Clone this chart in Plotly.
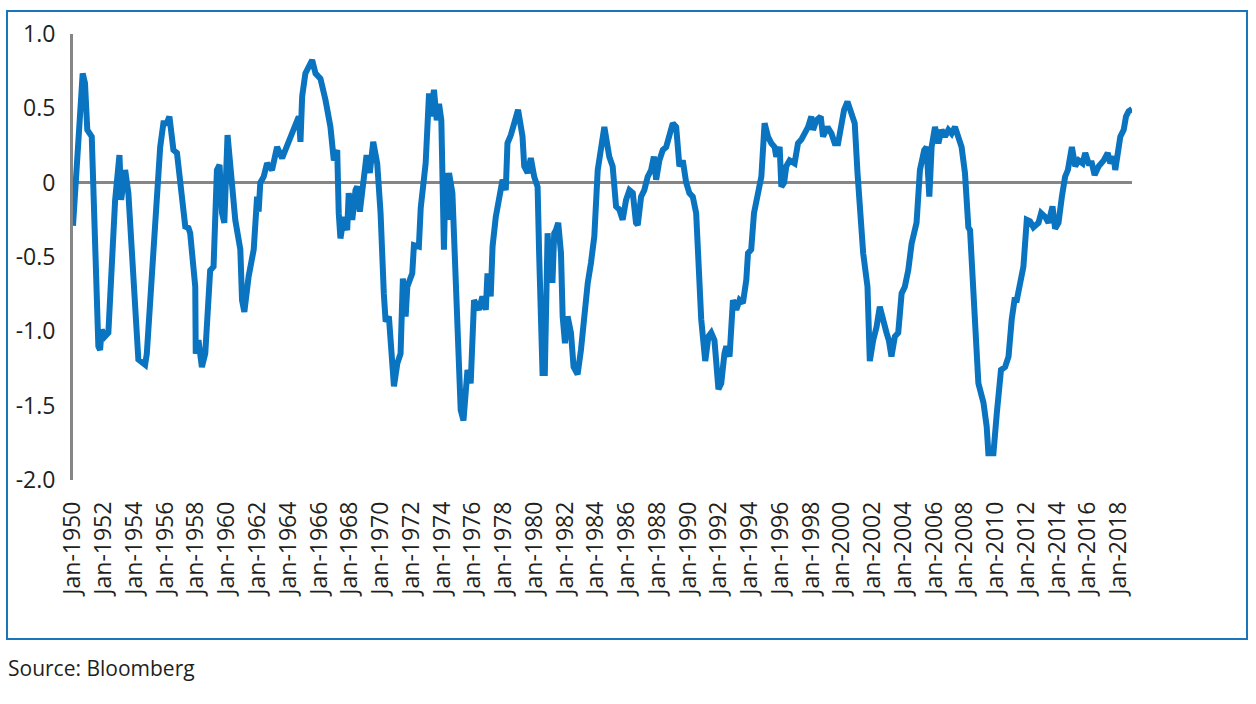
import datetime as dt
import plotly.graph_objects as go

# Decimal-year positions and values
years = [
    1950.00, 1950.24, 1950.63, 1950.78, 1950.93, 1951.22, 1951.65, 1951.76, 1951.87, 1952.08,
    1952.30, 1952.74, 1953.02, 1953.13, 1953.39, 1953.60, 1954.25, 1954.69, 1954.80, 1955.67,
    1955.88, 1956.10, 1956.27, 1956.53, 1956.76, 1957.30, 1957.51, 1957.62, 1957.95, 1957.98,
    1958.16, 1958.38, 1958.60, 1958.92, 1959.14, 1959.36, 1959.53, 1959.69, 1959.84, 1960.05,
    1960.34, 1960.55, 1960.88, 1960.99, 1961.14, 1961.42, 1961.75, 1961.86, 1961.97, 1962.07,
    1962.18, 1962.40, 1962.62, 1962.94, 1963.27, 1963.60, 1964.14, 1964.35, 1964.68, 1964.79,
    1964.90, 1965.11, 1965.55, 1965.77, 1966.09, 1966.42, 1966.74, 1966.96, 1967.18, 1967.28,
    1967.39, 1967.61, 1967.83, 1967.93, 1968.16, 1968.37, 1968.48, 1968.65, 1968.91, 1969.09,
    1969.30, 1969.52, 1969.78, 1970.00, 1970.21, 1970.33, 1970.54, 1970.76, 1970.87, 1971.09,
    1971.30, 1971.45, 1971.63, 1971.74, 1972.06, 1972.17, 1972.49, 1972.61, 1972.82, 1972.93,
    1973.15, 1973.26, 1973.47, 1973.65, 1973.80, 1973.95, 1974.12, 1974.23, 1974.38, 1974.45,
    1974.67, 1975.00, 1975.21, 1975.39, 1975.65, 1975.86, 1975.97, 1976.08, 1976.40, 1976.62,
    1976.84, 1976.95, 1977.16, 1977.28, 1977.49, 1977.71, 1977.93, 1978.14, 1978.25, 1978.47,
    1978.68, 1978.94, 1979.23, 1979.34, 1979.56, 1979.77, 1979.99, 1980.21, 1980.31, 1980.53,
    1980.68, 1980.86, 1981.01, 1981.18, 1981.29, 1981.40, 1981.55, 1981.73, 1981.84, 1981.99,
    1982.16, 1982.38, 1982.55, 1982.81, 1983.03, 1983.24, 1983.47, 1983.68, 1983.90, 1984.12,
    1984.33, 1984.55, 1984.87, 1985.09, 1985.31, 1985.52, 1985.74, 1985.96, 1986.18, 1986.40,
    1986.61, 1986.72, 1986.94, 1987.15, 1987.37, 1987.59, 1987.77, 1987.92, 1988.13, 1988.35,
    1988.57, 1988.78, 1989.00, 1989.22, 1989.43, 1989.65, 1989.87, 1990.08, 1990.30, 1990.52,
    1990.67, 1990.85, 1991.11, 1991.32, 1991.50, 1991.71, 1991.97, 1992.15, 1992.36, 1992.48,
    1992.69, 1992.91, 1993.13, 1993.34, 1993.56, 1993.78, 1993.89, 1994.10, 1994.28, 1994.54,
    1994.76, 1994.97, 1995.19, 1995.41, 1995.62, 1995.73, 1995.95, 1996.06, 1996.24, 1996.38,
    1996.60, 1996.92, 1997.14, 1997.36, 1997.58, 1997.80, 1998.01, 1998.12, 1998.34, 1998.62,
    1998.77, 1999.06, 1999.32, 1999.53, 1999.75, 1999.97, 2000.14, 2000.36, 2000.57, 2000.83,
    2001.01, 2001.16, 2001.38, 2001.66, 2001.81, 2002.03, 2002.25, 2002.46, 2002.68, 2002.90,
    2003.05, 2003.22, 2003.44, 2003.66, 2003.88, 2004.09, 2004.31, 2004.53, 2004.85, 2005.07,
    2005.35, 2005.50, 2005.68, 2005.83, 2006.05, 2006.27, 2006.48, 2006.70, 2006.92, 2007.13,
    2007.35, 2007.57, 2007.78, 2008.00, 2008.22, 2008.33, 2008.65, 2008.87, 2009.20, 2009.41,
    2009.52, 2009.85, 2010.07, 2010.34, 2010.61, 2010.83, 2011.04, 2011.22, 2011.37, 2011.58,
    2011.80, 2012.02, 2012.23, 2012.45, 2012.78, 2012.95, 2013.21, 2013.43, 2013.69, 2013.86,
    2014.08, 2014.30, 2014.51, 2014.69, 2014.95, 2015.17, 2015.39, 2015.65, 2015.82, 2016.04,
    2016.25, 2016.43, 2016.69, 2017.02, 2017.28, 2017.45, 2017.67, 2017.77, 2017.99, 2018.10,
    2018.32, 2018.47, 2018.64, 2018.86,
]
values = [
    -0.29, 0.065, 0.735, 0.67, 0.355, 0.31, -1.10, -1.125, -0.99, -1.035,
    -1.01, -0.116, 0.186, -0.116, 0.085, -0.07, -1.19, -1.225, -1.15, 0.24,
    0.40, 0.40, 0.445, 0.22, 0.20, -0.296, -0.305, -0.34, -0.70, -1.15,
    -1.06, -1.24, -1.15, -0.59, -0.565, 0.085, 0.12, -0.205, -0.27, 0.32,
    0.02, -0.25, -0.45, -0.79, -0.87, -0.63, -0.45, -0.205, -0.094, -0.195,
    0.0, 0.04, 0.13, 0.085, 0.24, 0.165, 0.31, 0.38, 0.445, 0.275,
    0.58, 0.735, 0.825, 0.735, 0.70, 0.555, 0.375, 0.15, 0.22, -0.205,
    -0.375, -0.23, -0.32, -0.07, -0.25, -0.05, -0.025, -0.195, 0.065, 0.186,
    0.065, 0.275, 0.13, -0.205, -0.745, -0.935, -0.90, -1.24, -1.37, -1.215,
    -1.15, -0.645, -0.90, -0.70, -0.61, -0.42, -0.43, -0.17, 0.0, 0.13,
    0.60, 0.445, 0.625, 0.42, 0.53, 0.42, -0.45, 0.065, -0.25, 0.065,
    -0.07, -0.92, -1.53, -1.60, -1.26, -1.35, -1.025, -0.79, -0.855, -0.765,
    -0.855, -0.61, -0.765, -0.43, -0.23, -0.094, 0.02, -0.05, 0.265, 0.32,
    0.40, 0.49, 0.31, 0.11, 0.065, 0.165, 0.04, -0.027, -0.475, -1.28,
    -1.28, -0.34, -0.655, -0.655, -0.34, -0.32, -0.27, -0.475, -0.90, -1.08,
    -0.90, -1.01, -1.24, -1.29, -1.125, -0.88, -0.675, -0.54, -0.36, 0.085,
    0.265, 0.375, 0.175, 0.11, -0.16, -0.18, -0.25, -0.116, -0.05, -0.07,
    -0.27, -0.285, -0.094, -0.05, 0.04, 0.085, 0.175, 0.02, 0.15, 0.22,
    0.24, 0.31, 0.40, 0.375, 0.11, 0.15, 0.0, -0.07, -0.094, -0.205,
    -0.54, -0.92, -1.20, -1.035, -1.01, -1.06, -1.39, -1.35, -1.15, -1.10,
    -1.17, -0.79, -0.855, -0.79, -0.81, -0.655, -0.475, -0.45, -0.205, -0.07,
    0.04, 0.40, 0.31, 0.265, 0.24, 0.175, 0.24, -0.027, 0.0, 0.11,
    0.15, 0.13, 0.265, 0.29, 0.33, 0.375, 0.445, 0.355, 0.42, 0.445,
    0.31, 0.375, 0.33, 0.265, 0.265, 0.40, 0.49, 0.545, 0.465, 0.40,
    0.065, -0.205, -0.475, -0.70, -1.20, -1.06, -0.97, -0.835, -0.945, -1.01,
    -1.06, -1.17, -1.035, -1.01, -0.745, -0.70, -0.59, -0.41, -0.27, 0.085,
    0.22, 0.24, -0.094, 0.24, 0.375, 0.265, 0.355, 0.31, 0.355, 0.33,
    0.375, 0.31, 0.24, 0.065, -0.30, -0.32, -0.97, -1.35, -1.48, -1.64,
    -1.82, -1.82, -1.55, -1.26, -1.24, -1.17, -0.92, -0.79, -0.79, -0.675,
    -0.565, -0.25, -0.26, -0.30, -0.27, -0.205, -0.23, -0.27, -0.16, -0.31,
    -0.27, -0.094, 0.04, 0.085, 0.24, 0.11, 0.15, 0.13, 0.20, 0.13,
    0.13, 0.052, 0.11, 0.15, 0.20, 0.13, 0.175, 0.085, 0.22, 0.31,
    0.355, 0.445, 0.48, 0.495,
]
tick_years = list(range(1950, 2019, 2))
tick_labels = [f"Jan-{y}" for y in tick_years]
y_ticks = [1.0, 0.5, 0.0, -0.5, -1.0, -1.5, -2.0]
y_tick_labels = ["1.0", "0.5", "0", "-0.5", "-1.0", "-1.5", "-2.0"]
source_text = "Source: Bloomberg"


def to_date(d):
    y = int(d)
    start = dt.datetime(y, 1, 1)
    end = dt.datetime(y + 1, 1, 1)
    return start + (end - start) * (d - y)


dates = [to_date(d) for d in years]
tick_dates = [dt.datetime(y, 1, 1) for y in tick_years]

FONT = "Open Sans"
TXT = "#231f20"

fig = go.Figure()
fig.add_trace(go.Scatter(
    x=dates, y=values, mode="lines",
    line=dict(color="#0A74C0", width=6),
    hoverinfo="skip", showlegend=False,
))

# plot area geometry (pixels)
L, R, T, B = 73, 1132, 34, 480
W, H = R - L, B - T

def px(x):
    return (x - L) / W

def py(y):
    return (B - y) / H

fig.update_layout(
    width=1256, height=704,
    margin=dict(l=L, r=1256 - R, t=T, b=704 - B, autoexpand=False),
    paper_bgcolor="white", plot_bgcolor="white",
    font=dict(family=FONT, color=TXT, size=23),
    xaxis=dict(
        type="date", range=[dates[0], dates[-1]],
        tickmode="array", tickvals=tick_dates, ticktext=tick_labels,
        tickangle=-90, showgrid=False, zeroline=False, showline=False,
        ticks="", ticklabelstandoff=16,
        tickfont=dict(family=FONT, size=23, color=TXT),
    ),
    yaxis=dict(
        range=[-2.0, 1.0], tickmode="array", tickvals=y_ticks, ticktext=y_tick_labels,
        showgrid=False, zeroline=True, zerolinecolor="#868686", zerolinewidth=3,
        showline=True, linecolor="#868686", linewidth=3,
        ticks="", ticklabelstandoff=10,
        tickfont=dict(family=FONT, size=23, color=TXT),
    ),
    shapes=[dict(
        type="rect", xref="paper", yref="paper",
        x0=px(7), x1=px(1247), y0=py(639), y1=py(11),
        line=dict(color="#1B75BB", width=2), fillcolor="rgba(0,0,0,0)", layer="below",
    )],
    annotations=[dict(
        text=source_text, xref="paper", yref="paper",
        x=px(6), y=py(668), xanchor="left", yanchor="middle",
        showarrow=False, font=dict(family=FONT, size=21, color=TXT),
    )],
)

fig.write_html(
    "out.html",
    config={"displayModeBar": False},
    post_script="document.body.style.margin='0px';document.body.style.overflow='hidden';",
)
